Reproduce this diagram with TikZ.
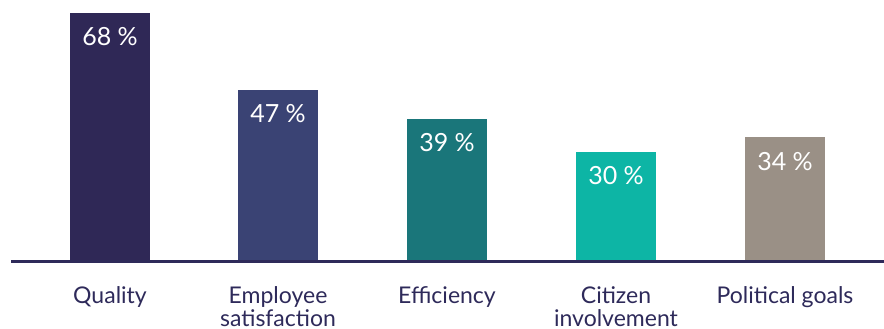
\documentclass[tikz,border=0pt]{standalone}
\usepackage{fontspec}
\setmainfont{Lato}
\usepackage{xcolor}
\usetikzlibrary{positioning}
\definecolor{navyink}{HTML}{2E2A5A}
\definecolor{quality}{HTML}{2F2856}
\definecolor{employee}{HTML}{3A4374}
\definecolor{efficiency}{HTML}{1A767A}
\definecolor{citizen}{HTML}{0DB5A5}
\definecolor{political}{HTML}{9A9086}

\begin{document}
\begin{tikzpicture}[x=1pt, y=1pt,
	bar/.style={rectangle, anchor=south, inner sep=0pt, minimum width=80pt},
	pct/.style={text=white, anchor=base, font=\fontsize{25}{27}\selectfont, inner sep=0pt},
	cat/.style={text=navyink, anchor=base, align=center, font=\fontsize{23}{22.5}\selectfont, inner sep=0pt}]
	\useasboundingbox (0,0) rectangle (884,329);
	
	% bars, height 3.66 per percent; labels sit on their last line
	\foreach \name/\x/\val/\col/\dy/\lab in {q/110/68/quality/42/Quality,
		e/278/47/employee/64.5/Employee\\satisfaction,
		f/447/39/efficiency/42/Efficiency,
		c/616/30/citizen/64.5/Citizen\\involvement,
		p/785/34/political/42/Political goals}{
		\node[bar, fill=\col, minimum height=\val*3.66pt] (\name) at (\x,67) {};
		\node[pct] (\name pct) at ([yshift=-33pt]\name.north) {\val~\%};
		\node[cat] (\name cat) at ([yshift=-\dy pt]\name.south) {\lab};
	}
	
	% axis line
	\coordinate (axisL) at (11,67);
	\coordinate (axisR) at (884,67);
	\draw[line width=3pt, navyink] (axisL) -- (axisR);
\end{tikzpicture}
\end{document}
